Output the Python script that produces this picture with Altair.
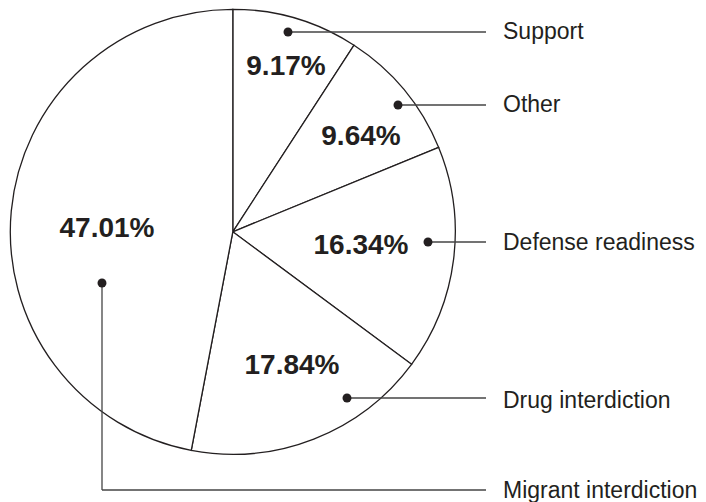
import altair as alt
import pandas as pd

# ---- data ----
categories = ["Support", "Other", "Defense readiness", "Drug interdiction", "Migrant interdiction"]
shares = [9.17, 9.64, 16.34, 17.84, 47.01]

# ---- layout (page pixel coordinates) ----
W, H = 690, 494
CX, CY, R = 232.8, 231.8, 222.5
dot_x = [288, 398, 428, 347, 102]
dot_y = [32, 105, 242, 398, 283]
leader_y = [32, 105, 242, 398, 490]
label_base = [39, 112, 250, 408, 498]
pct_x = [286, 361, 361, 292, 107]
pct_base = [75, 145, 254, 374, 237]
LEADER_END = 486
LABEL_X = 503

FONT = "Liberation Sans"
INK = "#231f20"

xs = alt.Scale(domain=[8, 8 + W], nice=False, zero=False)
ys = alt.Scale(domain=[8, 8 + H], nice=False, zero=False, reverse=True)

pie_df = pd.DataFrame({
    "category": categories,
    "share": shares,
    "order": list(range(len(categories))),
    "cx": [CX] * len(categories),
    "cy": [CY] * len(categories),
})

pie = alt.Chart(pie_df).mark_arc(
    outerRadius=R, fill="white", stroke=INK, strokeWidth=1.3
).encode(
    theta=alt.Theta("share:Q", stack=True),
    order=alt.Order("order:Q"),
    x=alt.X("cx:Q", scale=xs, axis=None),
    y=alt.Y("cy:Q", scale=ys, axis=None),
)

# leader segments
segs = []
for i in range(4):
    segs.append({"x": dot_x[i], "x2": LEADER_END, "y": dot_y[i], "y2": leader_y[i]})
segs.append({"x": dot_x[4], "x2": dot_x[4], "y": dot_y[4], "y2": leader_y[4]})
segs.append({"x": dot_x[4], "x2": LEADER_END, "y": leader_y[4], "y2": leader_y[4]})
seg_df = pd.DataFrame(segs)

leaders = alt.Chart(seg_df).mark_rule(color="#444444", strokeWidth=1.3).encode(
    x=alt.X("x:Q", scale=xs, axis=None),
    x2="x2:Q",
    y=alt.Y("y:Q", scale=ys, axis=None),
    y2="y2:Q",
)

dot_df = pd.DataFrame({"x": dot_x, "y": dot_y, "category": categories})
dots = alt.Chart(dot_df).mark_circle(size=80, color=INK, opacity=1).encode(
    x=alt.X("x:Q", scale=xs, axis=None),
    y=alt.Y("y:Q", scale=ys, axis=None),
)

pct_df = pd.DataFrame({
    "x": pct_x, "y": pct_base,
    "text": [f"{v:.2f}%" for v in shares],
})
pcts = alt.Chart(pct_df).mark_text(
    align="center", baseline="alphabetic", font=FONT, fontSize=28,
    fontWeight="bold", color=INK
).encode(
    x=alt.X("x:Q", scale=xs, axis=None),
    y=alt.Y("y:Q", scale=ys, axis=None),
    text="text:N",
)

lab_df = pd.DataFrame({"x": [LABEL_X] * len(categories), "y": label_base, "text": categories})
labels = alt.Chart(lab_df).mark_text(
    align="left", baseline="alphabetic", font=FONT, fontSize=23, color=INK
).encode(
    x=alt.X("x:Q", scale=xs, axis=None),
    y=alt.Y("y:Q", scale=ys, axis=None),
    text="text:N",
)

chart = alt.layer(pie, leaders, dots, pcts, labels).properties(
    width=W, height=H,
    autosize=alt.AutoSizeParams(type="none"),
    padding=0,
    background="white",
).configure_view(stroke=None)

chart.save("out.html", embed_options={"renderer": "svg", "actions": False})
